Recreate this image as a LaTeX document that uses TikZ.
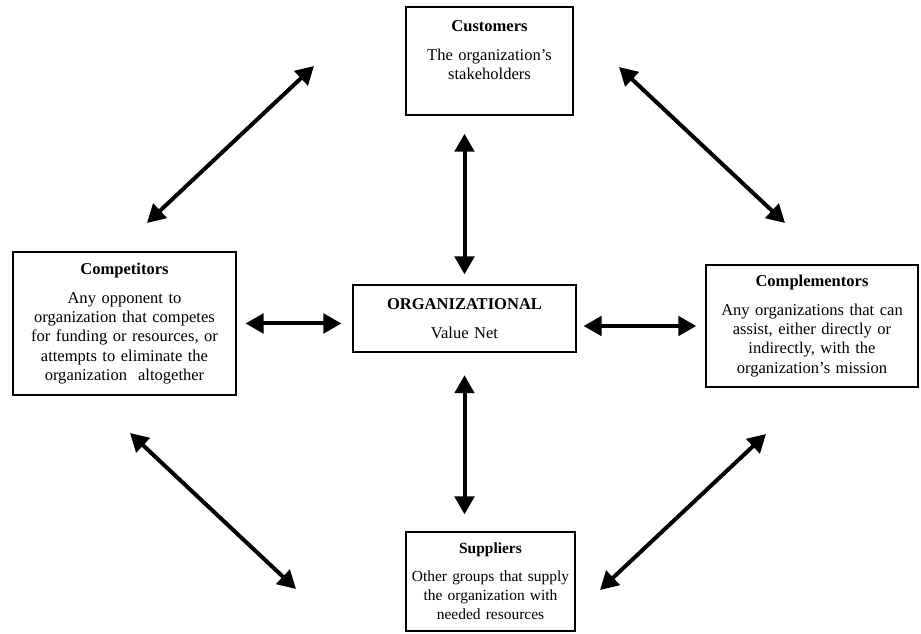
\documentclass[tikz,border=0pt]{standalone}
\usepackage{fontspec}
\setmainfont{Liberation Serif}
\usetikzlibrary{arrows.meta,positioning}

\begin{document}
\begin{tikzpicture}[
        x=0.75pt, y=-0.75pt,
        party/.style={rectangle, draw, line width=1.1pt, align=center, inner xsep=-6pt, inner ysep=2pt, font=\fontsize{12.4}{14.5}\selectfont},
        link/.style={{Triangle[length=13.5pt,width=14.5pt]}-{Triangle[length=13.5pt,width=14.5pt]}, line width=3pt}
    ]
    \useasboundingbox (0,0) rectangle (921,634);
    % the five parties of the value net
    \node [party, minimum width=125pt, minimum height=81pt, text width=130pt] (cust) at (489.5,61) {\textbf{Customers}\\[7pt] The organization’s\\ stakeholders\rule[-16pt]{0pt}{16pt}};
    \node [party, minimum width=167pt, minimum height=107pt, text width=172pt] (comp) at (124.5,323.5) {\textbf{Competitors}\\[7pt] Any opponent to\\ organization that competes\\ for funding or resources, or\\ attempts to eliminate the\\ organization~ altogether};
    \node [party, minimum width=167pt, minimum height=50pt, text width=172pt] (org) at (464.5,318.5) {\textbf{ORGANIZATIONAL}\\[7pt] Value Net};
    \node [party, minimum width=159pt, minimum height=91.5pt, text width=164pt] (cmpl) at (812,326) {\textbf{Complementors}\\[7pt] Any organizations that can\\ assist, either directly or\\ indirectly, with the\\ organization’s mission};
    \node [party, font=\fontsize{11.6}{14.2}\selectfont, minimum width=127pt, minimum height=74pt, text width=132pt] (supp) at (490.5,581.5) {\textbf{Suppliers}\\[7pt] Other groups that supply\\ the organization with\\ needed resources};
    % free ends of the diagonal links
    \coordinate (tl-a) at (147,223);
    \coordinate (tl-b) at (314,66);
    \coordinate (tr-a) at (619,67);
    \coordinate (tr-b) at (785,223);
    \coordinate (bl-a) at (130,433);
    \coordinate (bl-b) at (296,589);
    \coordinate (br-a) at (600,590);
    \coordinate (br-b) at (766,434);
    \draw [link, shorten <=13.5pt, shorten >=7.5pt] (org.north |- cust.south) -- (org.north);
    \draw [link, shorten <=17pt, shorten >=12.75pt] (org.south) -- (org.south |- supp.north);
    \draw [link, shorten <=6.75pt, shorten >=8.25pt] (comp.east) -- (comp.east -| org.west);
    \draw [link, shorten <=5.25pt, shorten >=6.75pt] (cmpl.west -| org.east) -- (cmpl.west);
    \draw [link] (tl-a) -- (tl-b);
    \draw [link] (tr-a) -- (tr-b);
    \draw [link] (bl-a) -- (bl-b);
    \draw [link] (br-a) -- (br-b);
\end{tikzpicture}
\end{document}
